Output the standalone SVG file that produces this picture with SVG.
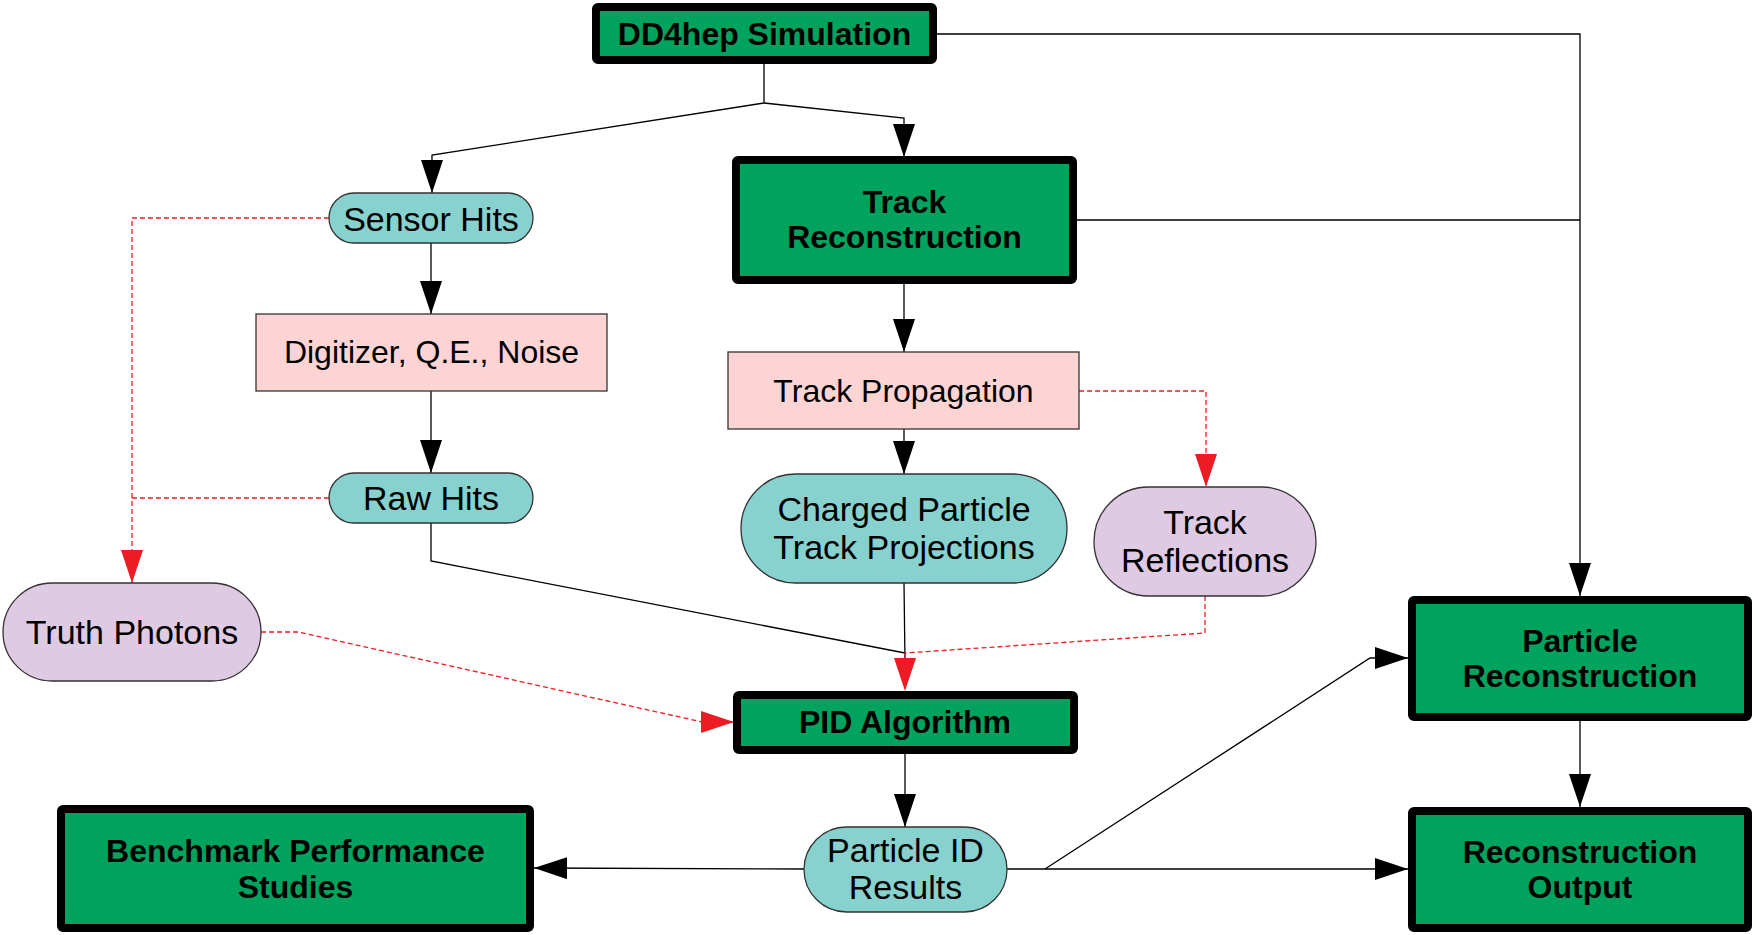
<svg xmlns="http://www.w3.org/2000/svg" width="1758" height="935" viewBox="0 0 1758 935">
<style>
  .key { fill: #00A35D; stroke: #000; stroke-width: 8; stroke-linejoin: round; }
  .proc { fill: #FBD4D3; stroke: #333; stroke-width: 1.3; }
  .data { fill: #87D1CE; stroke: #333; stroke-width: 1.3; }
  .truth { fill: #DFCAE3; stroke: #333; stroke-width: 1.3; }
  .bt { font-family: "Liberation Sans", Arial, sans-serif; font-weight: bold; font-size: 32px; fill: #000; text-anchor: middle; }
  .rt { font-family: "Liberation Sans", Arial, sans-serif; font-size: 34px; fill: #000; text-anchor: middle; }
  .rt2 { font-family: "Liberation Sans", Arial, sans-serif; font-size: 32px; fill: #000; text-anchor: middle; }
  .ln { fill: none; stroke: #000; stroke-width: 1.3; }
  .red { fill: none; stroke: #ED1C24; stroke-width: 1.3; stroke-dasharray: 5 3; }
</style>
<defs>
  <marker id="ab" markerUnits="userSpaceOnUse" markerWidth="34" markerHeight="22" refX="33" refY="11" orient="auto">
    <path d="M0,0 L33,11 L0,22 z" fill="#000"/>
  </marker>
  <marker id="ar" markerUnits="userSpaceOnUse" markerWidth="34" markerHeight="22" refX="33" refY="11" orient="auto">
    <path d="M0,0 L33,11 L0,22 z" fill="#ED1C24"/>
  </marker>
</defs>
<rect width="1758" height="935" fill="#fff"/>

<g id="connectors">
  <path class="ln" d="M764,60 L764,103 L432,155 L432,193" marker-end="url(#ab)"/>
  <path class="ln" d="M764,103 L904,118 L904,157" marker-end="url(#ab)"/>
  <path class="ln" d="M937,34 L1580,34 L1580,596" marker-end="url(#ab)"/>
  <path class="ln" d="M1077,220 L1580,220"/>
  <path class="ln" d="M431,243 L431,314" marker-end="url(#ab)"/>
  <path class="ln" d="M431,391 L431,473" marker-end="url(#ab)"/>
  <path class="ln" d="M904,283 L904,352" marker-end="url(#ab)"/>
  <path class="ln" d="M904,429 L904,474" marker-end="url(#ab)"/>
  <path class="ln" d="M904,583 L905,662"/>
  <path class="ln" d="M431,523 L431,561 L905,653"/>
  <path class="red" d="M329,218 L132,218 L132,583" marker-end="url(#ar)"/>
  <path class="red" d="M329,498 L132,498"/>
  <path class="red" d="M1079,391 L1206,391 L1206,487" marker-end="url(#ar)"/>
  <path class="red" d="M1205,596 L1205,633 L905,653 L905,691" marker-end="url(#ar)"/>
  <path class="red" d="M261,632 L298,632 L702,722 L734,722" marker-end="url(#ar)"/>
  <path class="ln" d="M905,753 L905,827" marker-end="url(#ab)"/>
  <path class="ln" d="M804,869 L534,868" marker-end="url(#ab)"/>
  <path class="ln" d="M1007,869 L1408,869" marker-end="url(#ab)"/>
  <path class="ln" d="M1045,869 L1370,658 L1408,658" marker-end="url(#ab)"/>
  <path class="ln" d="M1580,721 L1580,807" marker-end="url(#ab)"/>
</g>

<g id="dd4hep">
  <rect class="key" x="596" y="7" width="337" height="53" rx="2"/>
  <text class="bt" x="764.5" y="45">DD4hep Simulation</text>
</g>
<g id="sensor-hits">
  <rect class="data" x="329" y="193" width="204" height="50" rx="25"/>
  <text class="rt" x="431" y="231">Sensor Hits</text>
</g>
<g id="track-reco">
  <rect class="key" x="736" y="160" width="337" height="120" rx="2"/>
  <text class="bt" x="904.5" y="213">Track</text>
  <text class="bt" x="904.5" y="248">Reconstruction</text>
</g>
<g id="digitizer">
  <rect class="proc" x="256" y="314" width="351" height="77"/>
  <text class="rt2" x="431.5" y="363">Digitizer, Q.E., Noise</text>
</g>
<g id="track-prop">
  <rect class="proc" x="728" y="352" width="351" height="77"/>
  <text class="rt2" x="903.5" y="402">Track Propagation</text>
</g>
<g id="raw-hits">
  <rect class="data" x="329" y="473" width="204" height="50" rx="25"/>
  <text class="rt" x="431" y="510">Raw Hits</text>
</g>
<g id="charged-proj">
  <rect class="data" x="741" y="474" width="326" height="109" rx="54.5"/>
  <text class="rt" x="904" y="521">Charged Particle</text>
  <text class="rt" x="904" y="559">Track Projections</text>
</g>
<g id="track-refl">
  <rect class="truth" x="1094" y="487" width="222" height="109" rx="54.5"/>
  <text class="rt" x="1205" y="534">Track</text>
  <text class="rt" x="1205" y="572">Reflections</text>
</g>
<g id="truth-photons">
  <rect class="truth" x="3" y="583" width="258" height="98" rx="49"/>
  <text class="rt" x="132" y="644">Truth Photons</text>
</g>
<g id="particle-reco">
  <rect class="key" x="1412" y="600" width="336" height="117" rx="2"/>
  <text class="bt" x="1580" y="652">Particle</text>
  <text class="bt" x="1580" y="687">Reconstruction</text>
</g>
<g id="pid">
  <rect class="key" x="737" y="695" width="337" height="55" rx="2"/>
  <text class="bt" x="905" y="733">PID Algorithm</text>
</g>
<g id="pid-results">
  <rect class="data" x="804" y="827" width="203" height="85" rx="42.5"/>
  <text class="rt" x="905.5" y="862">Particle ID</text>
  <text class="rt" x="905.5" y="899">Results</text>
</g>
<g id="benchmark">
  <rect class="key" x="61" y="809" width="469" height="119" rx="2"/>
  <text class="bt" x="295.5" y="862">Benchmark Performance</text>
  <text class="bt" x="295.5" y="898">Studies</text>
</g>
<g id="reco-output">
  <rect class="key" x="1412" y="811" width="336" height="117" rx="2"/>
  <text class="bt" x="1580" y="863">Reconstruction</text>
  <text class="bt" x="1580" y="898">Output</text>
</g>
</svg>
